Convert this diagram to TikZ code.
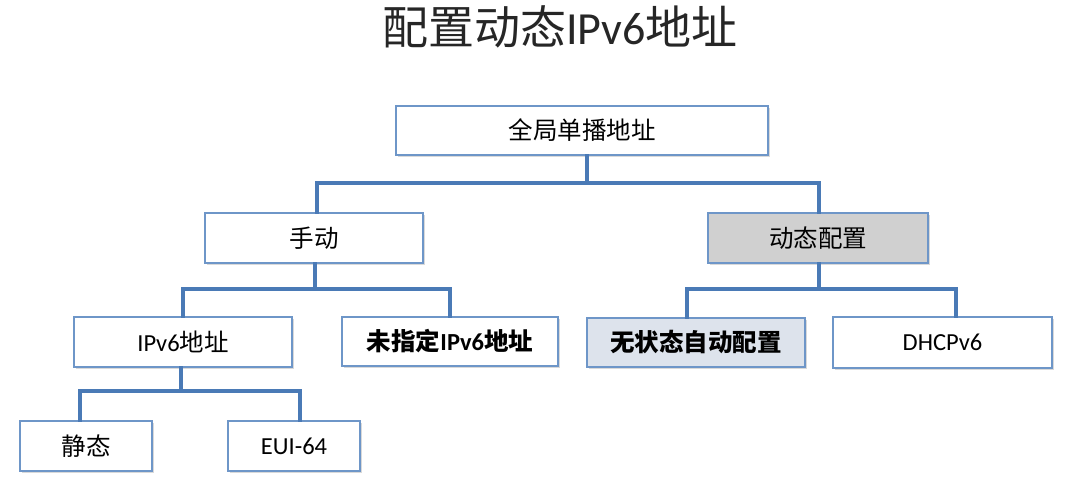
\documentclass[tikz,border=0pt]{standalone}
\usepackage{fontspec}
\setmainfont{Carlito}
\newfontfamily\cjk{Noto Sans CJK SC}
\usetikzlibrary{shadows}
\definecolor{linec}{RGB}{74,122,182}
\definecolor{boxc}{RGB}{110,150,200}
\definecolor{grayfill}{RGB}{208,208,208}
\definecolor{bluefill}{RGB}{221,227,236}
\tikzset{
  box/.style={draw=boxc, line width=1.2pt, fill=white, inner sep=0pt,
    font=\fontsize{24.5}{26}\selectfont,
    drop shadow={shadow xshift=1.5pt, shadow yshift=-1.8pt, opacity=0.25, fill=black!60}},
  conn/.style={draw=linec, line width=3.4pt, line cap=rect},
}
\begin{document}
\begin{tikzpicture}[x=1pt,y=-1pt]
\useasboundingbox (0,0) rectangle (1065,485);
\node[font=\fontsize{46}{50}\selectfont, text=black!85] (title) at (560,27) {{\cjk 配置动态}IPv6{\cjk 地址}};

\node[box, minimum width=372, minimum height=49] (top) at (582,130.5) {\cjk 全局单播地址};
\node[box, minimum width=218, minimum height=50] (manual) at (314,238) {\cjk 手动};
\node[box, fill=grayfill, minimum width=220, minimum height=50] (dyn) at (818,238) {\cjk 动态配置};
\node[box, minimum width=218, minimum height=50] (ipv6) at (183,342) {IPv6{\cjk 地址}};
\node[box, minimum width=216, minimum height=49, font=\fontsize{24.5}{26}\selectfont\bfseries] (unspec) at (450,341.5) {{\cjk\bfseries 未指定}IPv6{\cjk\bfseries 地址}};
\node[box, fill=bluefill, minimum width=218, minimum height=49] (slaac) at (696,342.5) {\cjk\bfseries 无状态自动配置};
\node[box, minimum width=219, minimum height=51] (dhcp) at (942.5,342.5) {DHCPv6};
\node[box, minimum width=132, minimum height=50] (static) at (86,446) {\cjk 静态};
\node[box, minimum width=132, minimum height=50] (eui) at (294,446) {EUI-64};

% level 1
\draw[conn] ([xshift=5pt]top.south) -- ([xshift=5pt]top.south |- 0,183);
\draw[conn] ([xshift=3pt]manual.north) -- ([xshift=3pt]manual.north |- 0,183)
  -- ([xshift=1pt]dyn.north |- 0,183) -- ([xshift=1pt]dyn.north);
% level 2 left
\draw[conn] ([xshift=1pt]manual.south) -- ([xshift=1pt]manual.south |- 0,289);
\draw[conn] (ipv6.north) -- (ipv6.north |- 0,289) -- (unspec.north |- 0,289) -- (unspec.north);
% level 2 right
\draw[conn] ([xshift=1pt]dyn.south) -- ([xshift=1pt]dyn.south |- 0,289);
\draw[conn] ([xshift=-9pt]slaac.north) -- ([xshift=-9pt]slaac.north |- 0,289)
  -- ([xshift=13.5pt]dhcp.north |- 0,289) -- ([xshift=13.5pt]dhcp.north);
% level 3
\draw[conn] ([xshift=-2pt]ipv6.south) -- ([xshift=-2pt]ipv6.south |- 0,391);
\draw[conn] ([xshift=-6pt]static.north) -- ([xshift=-6pt]static.north |- 0,391)
  -- ([xshift=6pt]eui.north |- 0,391) -- ([xshift=6pt]eui.north);
\end{tikzpicture}
\end{document}
